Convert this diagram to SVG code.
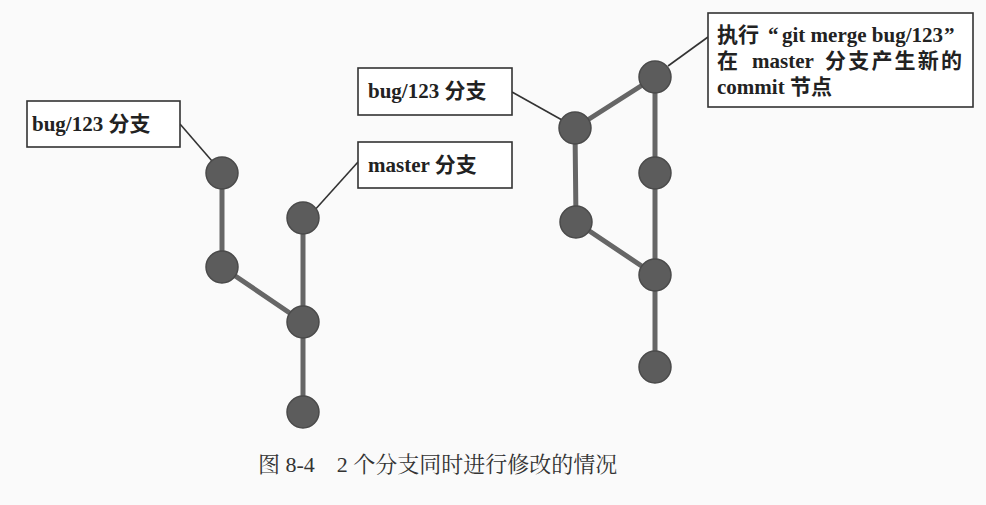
<svg xmlns="http://www.w3.org/2000/svg" width="986" height="505" viewBox="0 0 986 505">
<style>
.bg{fill:#fafafa}
.box{fill:#ffffff;stroke:#333;stroke-width:1.6}
.lbl{font-family:"Liberation Serif","Noto Sans CJK SC",serif;font-weight:bold;font-size:21px;fill:#222}
.ptr{stroke:#333;stroke-width:1.6;fill:none}
.edge{stroke:#666;stroke-width:5;fill:none;stroke-linecap:round}
.node{fill:#5c5c5c;stroke:#4a4a4a;stroke-width:1.5}
.cap{font-family:"Liberation Serif","Noto Serif CJK SC","Noto Sans CJK SC",serif;font-size:22px;fill:#333}
</style>
<rect class="bg" x="0" y="0" width="986" height="505"/>
<g id="connectors">
  <line class="edge" x1="222" y1="173" x2="222" y2="267"/>
  <line class="edge" x1="222" y1="267" x2="303" y2="322"/>
  <line class="edge" x1="303" y1="218" x2="303" y2="322"/>
  <line class="edge" x1="303" y1="322" x2="303" y2="412"/>
  <line class="edge" x1="575" y1="128" x2="576" y2="222"/>
  <line class="edge" x1="576" y1="222" x2="655" y2="275"/>
  <line class="edge" x1="575" y1="128" x2="655" y2="77"/>
  <line class="edge" x1="655" y1="77" x2="655" y2="173"/>
  <line class="edge" x1="655" y1="173" x2="655" y2="275"/>
  <line class="edge" x1="655" y1="275" x2="655" y2="367"/>
  <line class="ptr" x1="180" y1="124" x2="212" y2="161"/>
  <line class="ptr" x1="313" y1="212" x2="358" y2="162"/>
  <line class="ptr" x1="512" y1="92" x2="562" y2="120"/>
  <line class="ptr" x1="668" y1="66" x2="708" y2="37"/>
</g>
<g id="label-bug-left">
  <rect class="box" x="27" y="101" width="153" height="46"/>
  <text class="lbl" x="32" y="131">bug/123 分支</text>
</g>
<g id="label-master">
  <rect class="box" x="358" y="142" width="154" height="46"/>
  <text class="lbl" x="368" y="172">master 分支</text>
</g>
<g id="label-bug-right">
  <rect class="box" x="358" y="68" width="154" height="47"/>
  <text class="lbl" x="368" y="98">bug/123 分支</text>
</g>
<g id="label-merge">
  <rect class="box" x="708" y="13" width="265" height="94"/>
  <text class="lbl" y="42"><tspan x="717">执行</tspan><tspan x="768">“</tspan><tspan x="782">git merge bug/123</tspan><tspan x="944">”</tspan></text>
  <text class="lbl" x="717" y="68">在</text>
  <text class="lbl" x="752" y="68">master</text>
  <text class="lbl" x="825" y="68" textLength="137" lengthAdjust="spacing">分支产生新的</text>
  <text class="lbl" x="717" y="94">commit 节点</text>
</g>
<g id="n-a1"><circle class="node" cx="222" cy="173" r="16"/></g>
<g id="n-a2"><circle class="node" cx="222" cy="267" r="16"/></g>
<g id="n-b1"><circle class="node" cx="303" cy="218" r="16"/></g>
<g id="n-b2"><circle class="node" cx="303" cy="322" r="16"/></g>
<g id="n-b3"><circle class="node" cx="303" cy="412" r="16"/></g>
<g id="n-c1"><circle class="node" cx="575" cy="128" r="16"/></g>
<g id="n-c2"><circle class="node" cx="576" cy="222" r="16"/></g>
<g id="n-d1"><circle class="node" cx="655" cy="77" r="16"/></g>
<g id="n-d2"><circle class="node" cx="655" cy="173" r="16"/></g>
<g id="n-d3"><circle class="node" cx="655" cy="275" r="16"/></g>
<g id="n-d4"><circle class="node" cx="655" cy="367" r="16"/></g>
<g id="caption">
  <text class="cap" x="258" y="472">图 8-4　2 个分支同时进行修改的情况</text>
</g>
</svg>
